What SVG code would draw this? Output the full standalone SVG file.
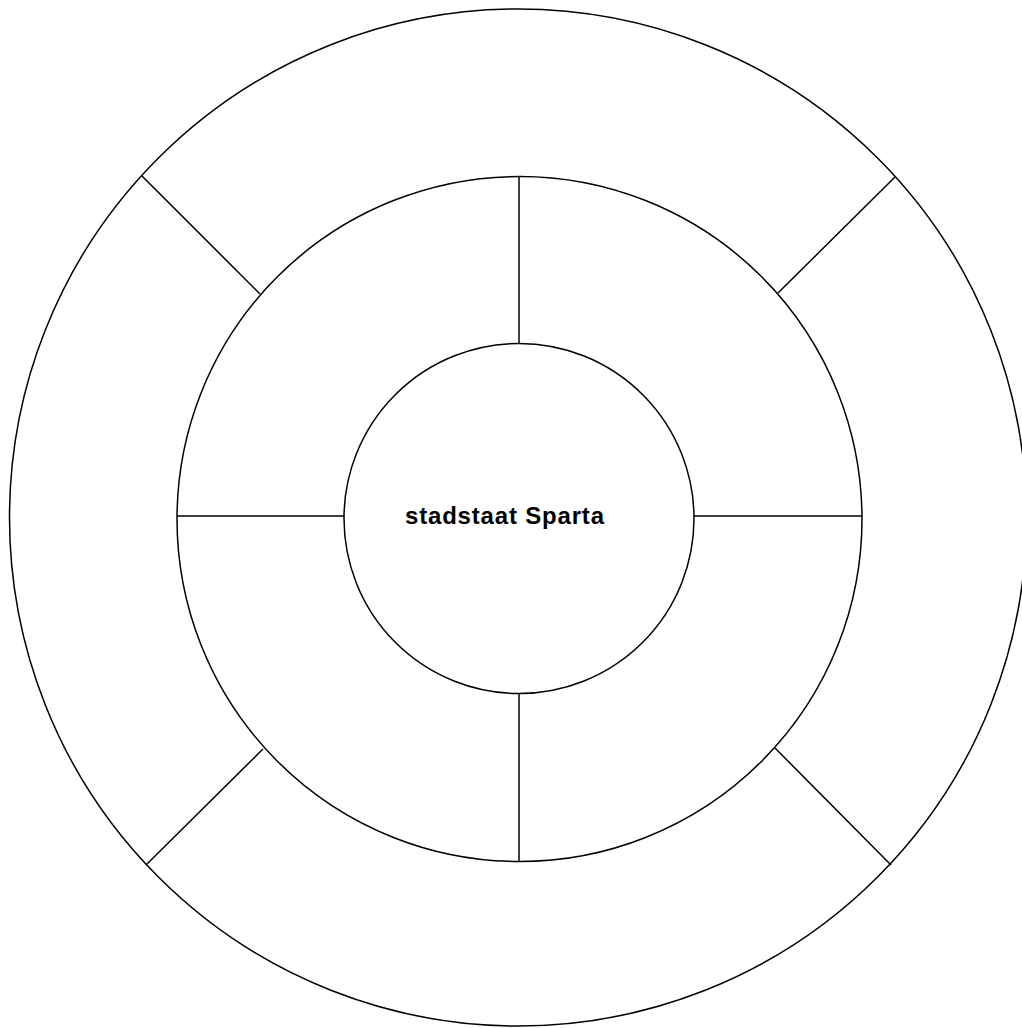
<svg xmlns="http://www.w3.org/2000/svg" width="1022" height="1028" viewBox="0 0 1022 1028">
<style>
.ring{fill:none;stroke:#000;stroke-width:1.5}
.sep{stroke:#000;stroke-width:1.5;fill:none}
.lbl{font-family:"Liberation Sans",Arial,sans-serif;font-weight:bold;font-size:24px;fill:#000}
</style>
<rect width="1022" height="1028" fill="#fff"/>
<g id="outer-ring"><circle class="ring" cx="518" cy="517.5" r="508.5"/></g>
<g id="middle-ring"><circle class="ring" cx="519.5" cy="519" r="342.5"/></g>
<g id="center"><circle class="ring" cx="519" cy="518.5" r="175"/>
<text class="lbl" x="405" y="524" textLength="199" lengthAdjust="spacing">stadstaat Sparta</text></g>
<g id="connectors">
<line class="sep" x1="519" y1="176" x2="519" y2="343.5"/>
<line class="sep" x1="519" y1="693.5" x2="519" y2="862"/>
<line class="sep" x1="177" y1="516" x2="344" y2="516"/>
<line class="sep" x1="694" y1="516" x2="862" y2="516"/>
<line class="sep" x1="142" y1="176" x2="260" y2="294"/>
<line class="sep" x1="895" y1="177" x2="778" y2="293"/>
<line class="sep" x1="146" y1="865" x2="263" y2="749"/>
<line class="sep" x1="891" y1="865" x2="775" y2="748"/>
</g>
</svg>
